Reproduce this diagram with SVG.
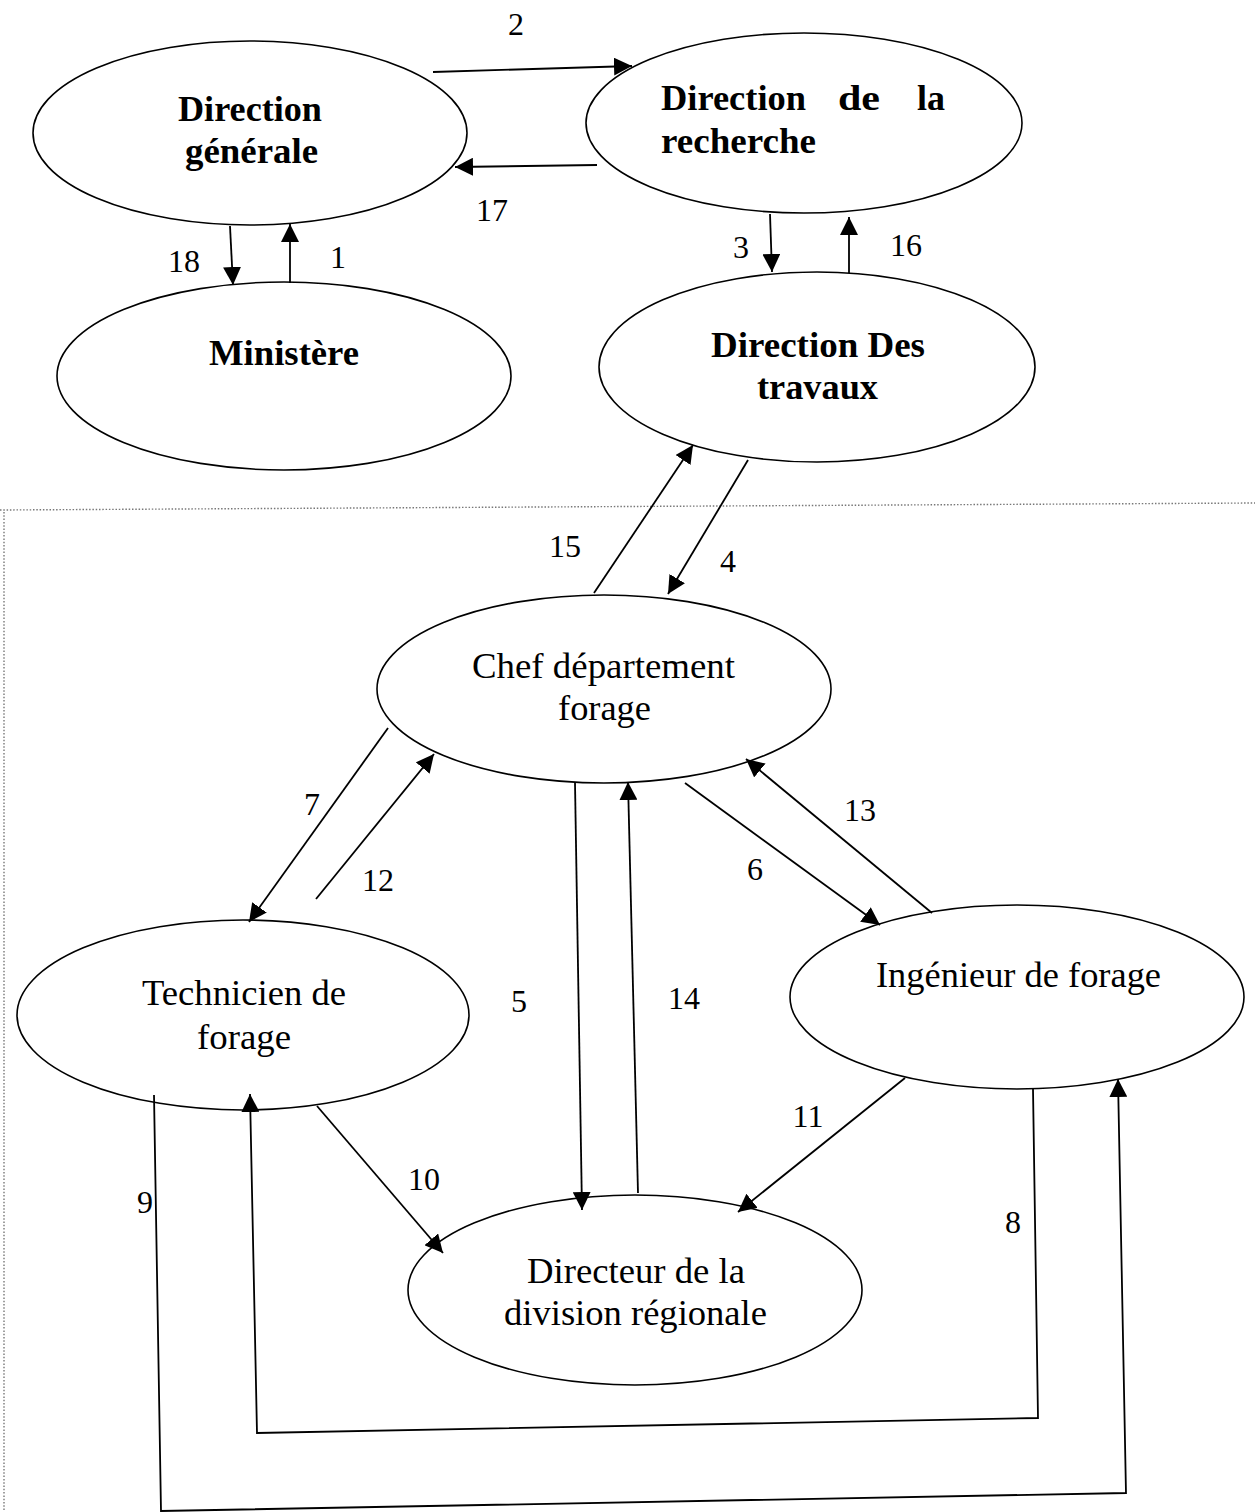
<svg xmlns="http://www.w3.org/2000/svg" width="1255" height="1512" viewBox="0 0 1255 1512">
<defs>
<marker id="ah" viewBox="0 0 18 18" refX="18" refY="9" markerWidth="18" markerHeight="18" markerUnits="userSpaceOnUse" orient="auto">
<path d="M0,0 L18,9 L0,18 z" fill="#000"/>
</marker>
<style>
.node ellipse{fill:#fff;stroke:#000;stroke-width:1.6}
.b{font-family:"Liberation Serif","Times New Roman",serif;font-weight:bold;font-size:35px;fill:#000}
.t{font-family:"Liberation Serif","Times New Roman",serif;font-size:35px;fill:#000}
.n{font-family:"Liberation Serif","Times New Roman",serif;font-size:32px;fill:#000;text-anchor:middle}
.c{fill:none;stroke:#000;stroke-width:1.8}
.a{marker-end:url(#ah)}
.dot{fill:none;stroke:#777;stroke-width:1.4;stroke-dasharray:1.5 1.8}
</style>
</defs>
<rect width="1255" height="1512" fill="#fff"/>
<g id="separators">
<path class="dot" d="M0,510 L1255,503"/>
<path class="dot" d="M4,512 L4,1512"/>
</g>
<g id="direction-generale" class="node">
<ellipse cx="250" cy="133" rx="217" ry="92"/>
<text class="b" x="178" y="121" textLength="144" lengthAdjust="spacingAndGlyphs">Direction</text>
<text class="b" x="185" y="163" textLength="133" lengthAdjust="spacingAndGlyphs">générale</text>
</g>
<g id="direction-recherche" class="node">
<ellipse cx="804" cy="123" rx="218" ry="90"/>
<text class="b" x="661" y="110" textLength="145" lengthAdjust="spacingAndGlyphs">Direction</text>
<text class="b" x="838" y="110" textLength="42" lengthAdjust="spacingAndGlyphs">de</text>
<text class="b" x="917" y="110" textLength="28" lengthAdjust="spacingAndGlyphs">la</text>
<text class="b" x="661" y="153" textLength="155" lengthAdjust="spacingAndGlyphs">recherche</text>
</g>
<g id="ministere" class="node">
<ellipse cx="284" cy="376" rx="227" ry="94"/>
<text class="b" x="209" y="365" textLength="150" lengthAdjust="spacingAndGlyphs">Ministère</text>
</g>
<g id="direction-travaux" class="node">
<ellipse cx="817" cy="367" rx="218" ry="95"/>
<text class="b" x="711" y="357" textLength="214" lengthAdjust="spacingAndGlyphs">Direction Des</text>
<text class="b" x="757" y="399" textLength="121" lengthAdjust="spacingAndGlyphs">travaux</text>
</g>
<g id="chef-departement" class="node">
<ellipse cx="604" cy="689" rx="227" ry="94"/>
<text class="t" x="472" y="678" textLength="263" lengthAdjust="spacingAndGlyphs">Chef département</text>
<text class="t" x="558" y="720" textLength="93" lengthAdjust="spacingAndGlyphs">forage</text>
</g>
<g id="technicien" class="node">
<ellipse cx="243" cy="1015" rx="226" ry="95"/>
<text class="t" x="142" y="1005" textLength="204" lengthAdjust="spacingAndGlyphs">Technicien de</text>
<text class="t" x="197" y="1049" textLength="94" lengthAdjust="spacingAndGlyphs">forage</text>
</g>
<g id="ingenieur" class="node">
<ellipse cx="1017" cy="997" rx="227" ry="92"/>
<text class="t" x="876" y="987" textLength="285" lengthAdjust="spacingAndGlyphs">Ingénieur de forage</text>
</g>
<g id="directeur-division" class="node">
<ellipse cx="635" cy="1290" rx="227" ry="95"/>
<text class="t" x="527" y="1283" textLength="218" lengthAdjust="spacingAndGlyphs">Directeur de la</text>
<text class="t" x="504" y="1325" textLength="263" lengthAdjust="spacingAndGlyphs">division régionale</text>
</g>
<g id="connectors">
<path class="c a" d="M433,72 L632,66"/>
<path class="c a" d="M597,165 L455,167"/>
<path class="c a" d="M230,226 L233,285"/>
<path class="c a" d="M290,283 L290,224"/>
<path class="c a" d="M770,214 L772,272"/>
<path class="c a" d="M849,273 L849,217"/>
<path class="c a" d="M594,593 L693,445"/>
<path class="c a" d="M748,460 L668,594"/>
<path class="c a" d="M388,728 L249,922"/>
<path class="c a" d="M316,899 L434,754"/>
<path class="c a" d="M575,783 L582,1210"/>
<path class="c a" d="M638,1193 L628,782"/>
<path class="c a" d="M685,783 L880,925"/>
<path class="c a" d="M932,913 L746,759"/>
<path class="c a" d="M905,1078 L738,1212"/>
<path class="c a" d="M317,1106 L443,1253"/>
<path class="c a" d="M1033,1089 L1038,1418 L257,1433 L250,1094"/>
<path class="c a" d="M154,1095 L161,1511 L1126,1493 L1118,1079"/>
</g>
<g id="labels">
<text class="n" x="516" y="35">2</text>
<text class="n" x="492" y="221">17</text>
<text class="n" x="184" y="272">18</text>
<text class="n" x="338" y="268">1</text>
<text class="n" x="741" y="258">3</text>
<text class="n" x="906" y="256">16</text>
<text class="n" x="565" y="557">15</text>
<text class="n" x="728" y="572">4</text>
<text class="n" x="312" y="815">7</text>
<text class="n" x="378" y="891">12</text>
<text class="n" x="519" y="1012">5</text>
<text class="n" x="684" y="1009">14</text>
<text class="n" x="755" y="880">6</text>
<text class="n" x="860" y="821">13</text>
<text class="n" x="808" y="1127">11</text>
<text class="n" x="424" y="1190">10</text>
<text class="n" x="145" y="1213">9</text>
<text class="n" x="1013" y="1233">8</text>
</g>
</svg>
